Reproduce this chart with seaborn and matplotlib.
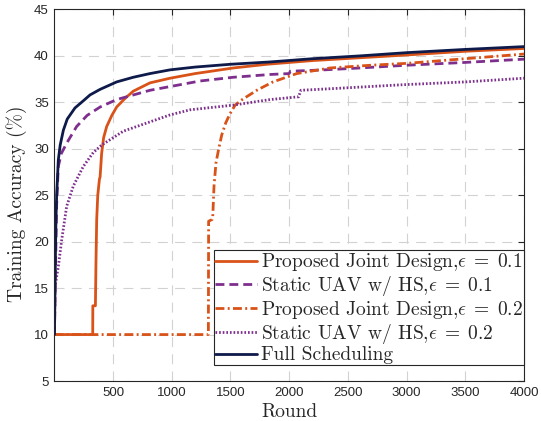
import numpy as np
import pandas as pd
import matplotlib
matplotlib.use("Agg")
import matplotlib.pyplot as plt
import seaborn as sns

# ---------------- data ----------------
full_x = [1, 5, 10, 14, 20, 34, 50, 77, 110, 176, 250, 304, 390, 531, 672, 815, 986, 1200, 1500, 1837, 2200, 2600, 3000, 3500, 4000]
full_y = [10, 14, 19, 22.4, 25.0, 28.8, 30.4, 32.0, 33.2, 34.4, 35.2, 35.8, 36.4, 37.2, 37.7, 38.1, 38.5, 38.8, 39.1, 39.35, 39.7, 40.0, 40.35, 40.7, 41.0]

pj1_x = [1, 327, 328, 350, 355, 361, 370, 384, 390, 403, 420, 446, 490, 531, 600, 672, 815, 986, 1200, 1523, 1810, 2200, 2600, 3000, 3500, 4000]
pj1_y = [10, 10, 13.1, 13.1, 18.0, 22.4, 25.0, 26.7, 27.0, 29.5, 31.2, 32.4, 33.6, 34.5, 35.4, 36.2, 37.1, 37.6, 38.1, 38.7, 39.1, 39.5, 39.8, 40.1, 40.5, 40.8]

st1_x = [1, 10, 20, 34, 60, 105, 190, 280, 390, 531, 815, 986, 1241, 1523, 1837, 2000, 2010, 2300, 2600, 3004, 3500, 4000]
st1_y = [10, 17, 24, 28.1, 29.5, 30.6, 32.4, 33.6, 34.5, 35.3, 36.3, 36.7, 37.3, 37.7, 38.0, 38.1, 38.35, 38.5, 38.7, 39.0, 39.3, 39.65]

pj2_x = [1, 1312, 1314, 1345, 1349, 1360, 1377, 1400, 1426, 1460, 1497, 1540, 1600, 1724, 1862, 2065, 2348, 2700, 3004, 3500, 4000]
pj2_y = [10, 10, 22.2, 22.4, 22.6, 26.0, 28.5, 30.0, 31.5, 32.8, 33.8, 34.7, 35.3, 36.3, 37.2, 38.1, 38.7, 39.0, 39.2, 39.7, 40.2]

st2_x = [1, 6, 34, 63, 105, 162, 247, 332, 403, 588, 815, 986, 1157, 1523, 1837, 2080, 2100, 2400, 2970, 3500, 4000]
st2_y = [10, 15.2, 17.3, 20.2, 23.8, 26.0, 28.1, 29.6, 30.4, 31.9, 32.9, 33.65, 34.2, 34.7, 35.3, 35.6, 36.3, 36.5, 36.9, 37.2, 37.6]

labels = [
    r"Proposed Joint Design,$\epsilon\;=\;0.1$",
    r"Static UAV w/ HS,$\epsilon\;=\;0.1$",
    r"Proposed Joint Design,$\epsilon\;=\;0.2$",
    r"Static UAV w/ HS,$\epsilon\;=\;0.2$",
    "Full Scheduling",
]
x_ticks = [500, 1000, 1500, 2000, 2500, 3000, 3500, 4000]
y_ticks = [5, 10, 15, 20, 25, 30, 35, 40, 45]

# ---------------- style ----------------
sns.set_theme(style="white")
plt.rcParams["font.family"] = ["Liberation Sans", "DejaVu Sans"]
plt.rcParams["mathtext.fontset"] = "cm"
plt.rcParams["axes.unicode_minus"] = False

orange = "#D95319"
purple = "#7E2F8E"
navy = "#0E1A4A"

fig = plt.figure(figsize=(5.41, 4.21), dpi=100)
ax = fig.add_axes([0.1004, 0.095, 0.8682, 0.8825])

series = [
    (pj1_x, pj1_y, orange, "-", labels[0]),
    (st1_x, st1_y, purple, (0, (3.2, 1.8)), labels[1]),
    (pj2_x, pj2_y, orange, (0, (3.2, 1.2, 0.7, 1.2)), labels[2]),
    (st2_x, st2_y, purple, (0, (0.6, 0.7)), labels[3]),
    (full_x, full_y, navy, "-", labels[4]),
]
for xs, ys, c, ls, lab in series:
    df = pd.DataFrame({"Round": xs, "Acc": ys})
    sns.lineplot(data=df, x="Round", y="Acc", ax=ax, color=c, linestyle=ls,
                 linewidth=2.0, label=lab, estimator=None, sort=False)

ax.set_xlim(0, 4000)
ax.set_ylim(5, 45)
ax.set_xticks(x_ticks)
ax.set_yticks(y_ticks)
ax.tick_params(direction="in", length=4, width=0.8, colors="#262626",
               labelsize=9.5, top=True, right=True, pad=4)
for s in ax.spines.values():
    s.set_color("#262626")
    s.set_linewidth(0.8)
ax.grid(True, color="#d2d2d2", linestyle=(0, (9, 6.5)), linewidth=0.8)

ax.set_xlabel("Round", fontname="cmr10", fontsize=14, color="#262626", labelpad=3)
ax.set_ylabel("Training Accuracy (%)", fontname="cmr10", fontsize=14, color="#262626")
ax.yaxis.set_label_coords(-0.058, 0.476)

leg = ax.legend(loc="lower right", bbox_to_anchor=(1.0, 0.042),
                prop={"family": "cmr10", "size": 14}, handlelength=2.15,
                handletextpad=0.2, labelspacing=0.04, borderpad=0.05,
                borderaxespad=0.0, fancybox=False, framealpha=1, edgecolor="#262626")
leg.get_frame().set_linewidth(0.8)

fig.savefig("out.png", dpi=100)
